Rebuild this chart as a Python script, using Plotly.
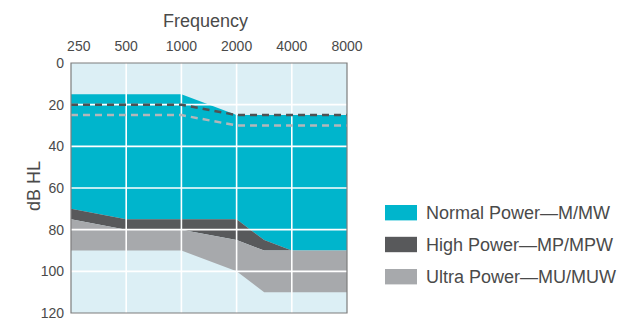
import plotly.graph_objects as go

# ---- data ----
freq_labels = ["250", "500", "1000", "2000", "4000", "8000"]
freqs = [250, 500, 1000, 2000, 3000, 4000, 8000]
# axis slot of each frequency (octave spacing, 3000 Hz midway)
slot = {250: 0, 500: 1, 1000: 2, 2000: 3, 3000: 3.5, 4000: 4, 8000: 5}

normal_top = [15, 15, 15, 25, 25, 25, 25]
normal_bottom = [70, 75, 75, 75, 85, 90, 90]
high_bottom = [75, 80, 80, 85, 90, 90, 90]
ultra_bottom = [90, 90, 90, 100, 110, 110, 110]

dash_dark = [20, 20, 20, 25, 25, 25, 25]
dash_light = [25, 25, 25, 30, 30, 30, 30]

y_ticks = [0, 20, 40, 60, 80, 100, 120]

series_names = ["Normal Power\u2014M/MW", "High Power\u2014MP/MPW", "Ultra Power\u2014MU/MUW"]

# ---- style ----
BG = "#DCEFF5"
TEAL = "#00B5CC"
DARK = "#58595B"
GRAY = "#A7A9AC"
TXT = "#4a4a4a"
FONT = "Liberation Sans"

x = [slot[f] for f in freqs]
n_slots = len(freq_labels) - 1

fig = go.Figure()


def band(top, bottom, color):
    fig.add_trace(go.Scatter(x=x, y=top, mode="lines", line=dict(width=0, color=color),
                             hoverinfo="skip", showlegend=False))
    fig.add_trace(go.Scatter(x=x, y=bottom, mode="lines", line=dict(width=0, color=color),
                             fill="tonexty", fillcolor=color, hoverinfo="skip", showlegend=False))


band(normal_top, normal_bottom, TEAL)
band(normal_bottom, high_bottom, DARK)
band(high_bottom, ultra_bottom, GRAY)

# white grid lines drawn over the fills (as traces, below the dashed lines)
gx, gy = [], []
for i in range(1, n_slots):
    gx += [i, i, None]
    gy += [y_ticks[0], y_ticks[-1], None]
for v in y_ticks[1:-1]:
    gx += [0, n_slots, None]
    gy += [v, v, None]
fig.add_trace(go.Scatter(x=gx, y=gy, mode="lines", line=dict(color="white", width=1.6),
                         hoverinfo="skip", showlegend=False, connectgaps=False))

fig.add_trace(go.Scatter(x=x, y=dash_light, mode="lines",
                         line=dict(color="#B4B6B9", width=2.5, dash="7px,5px"),
                         showlegend=False, hoverinfo="skip"))
fig.add_trace(go.Scatter(x=x, y=dash_dark, mode="lines",
                         line=dict(color="#505153", width=2.5, dash="7px,5px"),
                         showlegend=False, hoverinfo="skip"))

shapes = []
# border
shapes.append(dict(type="rect", xref="paper", yref="paper", x0=0, x1=1, y0=0, y1=1,
                   line=dict(color="#7d7d7d", width=1.2), layer="above"))

# manual legend
PW, PH = 276.0, 250.0  # plot size in px
def px_x(p):
    return (p - 71) / PW
def px_y(p):
    return (313 - p) / PH

legend_colors = [TEAL, DARK, GRAY]
legend_centers = [212.7, 244.5, 276.7]
annotations = []
for name, col, cy in zip(series_names, legend_colors, legend_centers):
    shapes.append(dict(type="rect", xref="paper", yref="paper",
                       x0=px_x(385), x1=px_x(417), y0=px_y(cy + 7.7), y1=px_y(cy - 7.7),
                       fillcolor=col, line=dict(width=0)))
    annotations.append(dict(text=name, xref="paper", yref="paper", x=px_x(424), y=px_y(cy + 0.5),
                            xanchor="left", yanchor="middle", showarrow=False,
                            font=dict(family=FONT, size=18, color=TXT)))

# titles
annotations.append(dict(text="Frequency", xref="paper", yref="paper", x=px_x(205), y=px_y(21),
                        xanchor="center", yanchor="middle", showarrow=False,
                        font=dict(family=FONT, size=18, color=TXT)))
annotations.append(dict(text="dB HL", xref="paper", yref="paper", x=px_x(34), y=px_y(186),
                        xanchor="center", yanchor="middle", showarrow=False, textangle=-90,
                        font=dict(family=FONT, size=18, color=TXT)))
# chart heading, mostly above the visible page
annotations.append(dict(text="Fitting Range", xref="paper", yref="paper", x=px_x(19), y=px_y(-2),
                        xanchor="left", yanchor="bottom", showarrow=False,
                        font=dict(family=FONT, size=27, color="#222")))

tick_text = ["\u00a0" * 4 + freq_labels[0]] + freq_labels[1:]

fig.update_layout(
    width=631, height=318,
    margin=dict(l=71, r=631 - 347, t=63, b=5, pad=0, autoexpand=False),
    paper_bgcolor="white", plot_bgcolor=BG,
    font=dict(family=FONT, color=TXT),
    shapes=shapes, annotations=annotations,
    showlegend=False,
    xaxis=dict(range=[0, n_slots], side="top", tickmode="array",
               tickvals=list(range(len(freq_labels))), ticktext=tick_text,
               showgrid=False, zeroline=False, showline=False, ticks="",
               ticklabelstandoff=8, ticklabeloverflow="allow", automargin=False,
               tickfont=dict(family=FONT, size=14, color=TXT)),
    yaxis=dict(range=[y_ticks[-1], y_ticks[0]], tickmode="array", tickvals=y_ticks,
               showgrid=False, zeroline=False, showline=False, ticks="",
               ticklabelstandoff=6, ticklabeloverflow="allow", automargin=False,
               tickfont=dict(family=FONT, size=14, color=TXT)),
)

fig.write_html("out.html", config={"displayModeBar": False},
               post_script="document.body.style.margin='0px';")
